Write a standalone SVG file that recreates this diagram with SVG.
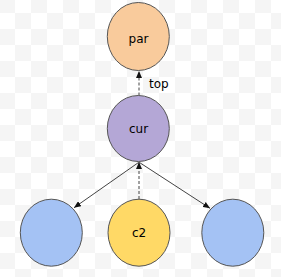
<svg xmlns="http://www.w3.org/2000/svg" width="281" height="277" viewBox="0 0 281 277">
<style>
.node{stroke:#555;stroke-width:1}
.lbl{font-family:"DejaVu Sans",Verdana,sans-serif;font-size:12px;fill:#000;text-anchor:middle}
.edge{stroke:#444;stroke-width:1;fill:none}
.dash{stroke-dasharray:3 2}
</style>
<defs>
<pattern id="chk" patternUnits="userSpaceOnUse" x="-1" y="-3" width="32" height="32">
<rect width="32" height="32" fill="#fff"/>
<rect width="16" height="16" fill="#f5f5f5"/>
<rect x="16" y="16" width="16" height="16" fill="#f5f5f5"/>
</pattern>
<marker id="ah" markerUnits="userSpaceOnUse" markerWidth="8" markerHeight="6" refX="7" refY="3" orient="auto">
<path d="M0,0 L7,3 L0,6 z" fill="#111"/>
</marker>
</defs>
<rect width="281" height="277" fill="url(#chk)"/>
<g id="connectors">
<line class="edge dash" x1="139" y1="95.5" x2="139" y2="71" marker-end="url(#ah)"/>
<line class="edge dash" x1="139" y1="199" x2="139" y2="162" marker-end="url(#ah)"/>
<line class="edge" x1="138.5" y1="162.5" x2="74" y2="207.7" marker-end="url(#ah)"/>
<line class="edge" x1="139.5" y1="162.5" x2="210" y2="208.3" marker-end="url(#ah)"/>
<text x="149" y="87.5" class="lbl" style="text-anchor:start">top</text>
</g>
<g id="par">
<ellipse class="node" cx="138.3" cy="36.5" rx="31" ry="34" fill="#f9cb9c"/>
<text class="lbl" x="138.5" y="42.5">par</text>
</g>
<g id="cur">
<ellipse class="node" cx="138.3" cy="128.5" rx="31" ry="33" fill="#b4a7d6"/>
<text class="lbl" x="138.5" y="133">cur</text>
</g>
<g id="c1">
<ellipse class="node" cx="51.3" cy="232.7" rx="31" ry="33.5" fill="#a4c2f4"/>
</g>
<g id="c2">
<ellipse class="node" cx="139" cy="232.7" rx="31" ry="33.5" fill="#ffd966"/>
<text class="lbl" x="139" y="237.3">c2</text>
</g>
<g id="c3">
<ellipse class="node" cx="232.8" cy="232.7" rx="31" ry="33.5" fill="#a4c2f4"/>
</g>
</svg>
